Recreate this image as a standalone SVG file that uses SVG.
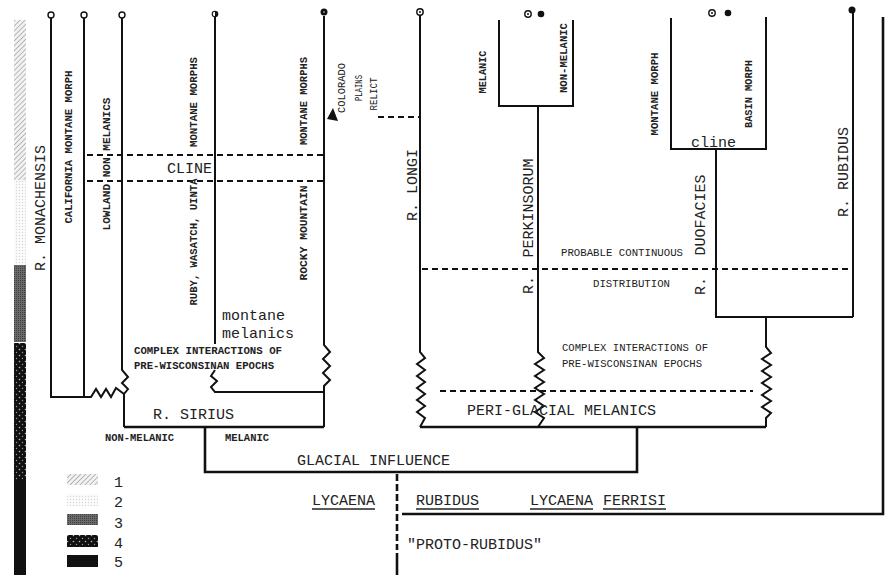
<svg xmlns="http://www.w3.org/2000/svg" width="886" height="575" viewBox="0 0 886 575">
<defs>
<pattern id="p1" width="3.5" height="3.5" patternUnits="userSpaceOnUse" patternTransform="rotate(45)">
<rect width="3.5" height="3.5" fill="#f2f2f2"/>
<line x1="0" y1="0" x2="0" y2="3.5" stroke="#9a9a9a" stroke-width="1.3"/>
</pattern>
<pattern id="p2" width="3" height="3" patternUnits="userSpaceOnUse">
<rect width="3" height="3" fill="#fbfbfb"/>
<circle cx="1.5" cy="1.5" r="0.7" fill="#d6d6d6"/>
</pattern>
<pattern id="p3" width="2" height="2" patternUnits="userSpaceOnUse">
<rect width="2" height="2" fill="#6a6a6a"/>
<rect width="1" height="1" fill="#3e3e3e"/>
</pattern>
<pattern id="p4" width="6" height="6" patternUnits="userSpaceOnUse">
<rect width="6" height="6" fill="#111"/>
<circle cx="1.5" cy="1.5" r="0.8" fill="#bbb"/>
<circle cx="4.5" cy="4.5" r="0.7" fill="#999"/>
</pattern>
</defs>
<style>
.ln{fill:none;stroke:#111;stroke-width:2;stroke-linejoin:miter}
.thk{fill:none;stroke:#111;stroke-width:2.6}
.ds{fill:none;stroke:#111;stroke-width:1.8;stroke-dasharray:6 4}
.big{font-family:"Liberation Mono",monospace;font-size:15px;fill:#222}
.sm{font-family:"Liberation Mono",monospace;font-size:10.7px;font-weight:bold;fill:#222}
.tw{font-family:"Liberation Mono",monospace;font-size:10.7px;fill:#222}
.ul{stroke:#222;stroke-width:1.5}
.oc{fill:#fff;stroke:#111;stroke-width:1.4}
.fc{fill:#111}
</style>

<g id="legend-bar">
<rect x="14" y="20" width="12" height="160" fill="url(#p1)"/>
<rect x="14" y="180" width="12" height="85" fill="url(#p2)"/>
<rect x="14" y="265" width="12" height="77" fill="url(#p3)"/>
<rect x="14" y="343" width="12" height="137" fill="url(#p4)"/>
<rect x="14" y="480" width="12" height="95" fill="#111"/>
</g>

<g id="legend">
<rect x="67" y="474" width="31" height="11" fill="url(#p1)"/>
<rect x="67" y="494" width="31" height="12" fill="url(#p2)"/>
<rect x="67" y="514" width="31" height="11" fill="url(#p3)"/>
<rect x="67" y="535" width="31" height="12" fill="url(#p4)"/>
<rect x="67" y="555" width="31" height="12" fill="#111"/>
<text class="big" x="114" y="487">1</text>
<text class="big" x="114" y="507">2</text>
<text class="big" x="114" y="528">3</text>
<text class="big" x="114" y="548">4</text>
<text class="big" x="114" y="567">5</text>
</g>

<g id="connectors">
<!-- monachensis group -->
<path class="ln" d="M51,18 V397 H84"/>
<path class="ln" d="M84,18 V397 L91,397 L96,389 L101,397 L106,389 L111,397 L116,388 L124,394"/>
<path class="ln" d="M122,18 V370 L128,377 L122,383 L128,389 L124,394 V427"/>
<!-- sirius -->
<path class="ln" d="M215,17 V344"/>
<path class="ln" d="M215,370 L211,376 L217,381 L211,387 L215,392 H324"/>
<path class="ln" d="M324,16 V345 L330,352 L323,359 L330,366 L323,373 L330,380 L324,386 V427"/>
<path class="thk" d="M124,427 H324"/>
<path class="thk" d="M205,427 V472 H637 V427"/>
<!-- longi / perkinsorum -->
<path class="ln" d="M420,15 V352 L425,358 L417,364 L425,370 L417,376 L425,382 L417,388 L425,394 L417,400 L425,406 L417,412 L425,418 L420,427"/>
<path class="ln" d="M499,20 V106 H573 V20"/>
<path class="ln" d="M538,106 V352 L544,358 L535,364 L544,370 L535,376 L544,382 L535,388 L544,394 L535,400 L544,406 L535,412 L544,418 L538,427"/>
<!-- duofacies / rubidus -->
<path class="ln" d="M671,18 V149 H766 V17"/>
<path class="ln" d="M716,149 V317 H853"/>
<path class="ln" d="M853,13 V317"/>
<path class="ln" d="M766,317 V347 L771,353 L762,359 L771,365 L762,371 L771,377 L762,383 L771,389 L762,395 L771,401 L762,407 L771,413 L766,418 V427"/>
<path class="thk" d="M420,427 H766"/>
<!-- root -->
<path class="thk" d="M397,474 V550" stroke-dasharray="7 3"/>
<path class="thk" d="M397,553 V575"/>
<path class="thk" d="M402,514 H883 V17"/>
<!-- dashed distribution lines -->
<path class="ds" d="M87,155 H323"/>
<path class="ds" d="M87,181 H323"/>
<path class="ds" d="M422,269 H853"/>
<path class="ds" d="M440,391 H753"/>
<path class="ds" d="M378,117 H420"/>
<polygon points="327,119 333,108 338,121" fill="#111"/>
</g>

<g id="markers">
<circle class="oc" cx="51" cy="15" r="3"/>
<circle class="oc" cx="84" cy="15" r="3"/>
<circle class="oc" cx="122" cy="15" r="3"/>
<circle cx="215" cy="14" r="3.3" fill="#111"/>
<path d="M215,11.8 A2.2,2.2 0 0 0 215,16.2 Z" fill="#fff"/>
<circle cx="324" cy="12" r="3.5" fill="#111"/>
<circle cx="324" cy="12" r="1" fill="#888"/>
<circle class="oc" cx="420" cy="12" r="3.2"/>
<circle cx="420" cy="12" r="1" fill="#111"/>
<circle class="oc" cx="528" cy="14" r="3.2"/>
<circle cx="528" cy="14" r="1" fill="#111"/>
<circle class="fc" cx="541" cy="14" r="3.3"/>
<circle class="oc" cx="712" cy="13" r="3.2"/>
<circle cx="712" cy="13" r="1" fill="#111"/>
<circle class="fc" cx="728" cy="13" r="3.3"/>
<circle class="fc" cx="852" cy="10" r="3.5"/>
</g>

<g id="monachensis">
<text class="big" text-anchor="middle" transform="translate(45,208) rotate(-90)">R. MONACHENSIS</text>
<text class="sm" text-anchor="middle" textLength="153" lengthAdjust="spacingAndGlyphs" transform="translate(72,147) rotate(-90)">CALIFORNIA MONTANE MORPH</text>
<text class="sm" text-anchor="middle" textLength="133" lengthAdjust="spacingAndGlyphs" transform="translate(110,164) rotate(-90)">LOWLAND NON MELANICS</text>
<text class="big" x="167" y="173">CLINE</text>
</g>

<g id="sirius">
<text class="sm" text-anchor="middle" textLength="90" lengthAdjust="spacingAndGlyphs" transform="translate(197,102) rotate(-90)">MONTANE MORPHS</text>
<text class="sm" text-anchor="middle" textLength="127" lengthAdjust="spacingAndGlyphs" transform="translate(197,242) rotate(-90)">RUBY, WASATCH, UINTA</text>
<text class="sm" text-anchor="middle" textLength="88" lengthAdjust="spacingAndGlyphs" transform="translate(307,101) rotate(-90)">MONTANE MORPHS</text>
<text class="sm" text-anchor="middle" textLength="95" lengthAdjust="spacingAndGlyphs" transform="translate(307,233) rotate(-90)">ROCKY MOUNTAIN</text>
<text class="big" x="222" y="320">montane</text>
<text class="big" x="222" y="338">melanics</text>
<text class="sm" x="134" y="354" textLength="148" lengthAdjust="spacingAndGlyphs">COMPLEX INTERACTIONS OF</text>
<text class="sm" x="134" y="369" textLength="140" lengthAdjust="spacingAndGlyphs">PRE-WISCONSINAN EPOCHS</text>
<text class="big" x="153" y="419">R. SIRIUS</text>
<text class="sm" x="105" y="441" textLength="69" lengthAdjust="spacingAndGlyphs">NON-MELANIC</text>
<text class="sm" x="225" y="441" textLength="44" lengthAdjust="spacingAndGlyphs">MELANIC</text>
</g>

<g id="colorado-relict">
<text class="tw" text-anchor="middle" textLength="50" lengthAdjust="spacingAndGlyphs" transform="translate(345,88) rotate(-90)">COLORADO</text>
<text class="tw" text-anchor="middle" textLength="26" lengthAdjust="spacingAndGlyphs" transform="translate(362,88) rotate(-90)">PLAINS</text>
<text class="tw" text-anchor="middle" textLength="33" lengthAdjust="spacingAndGlyphs" transform="translate(377,94) rotate(-90)">RELICT</text>
</g>

<g id="longi">
<text class="big" text-anchor="middle" transform="translate(417,185) rotate(-90)">R. LONGI</text>
</g>

<g id="perkinsorum">
<text class="big" text-anchor="middle" transform="translate(533,208) rotate(-90)">PERKINSORUM</text>
<text class="big" text-anchor="middle" transform="translate(533,285) rotate(-90)">R.</text>
<text class="sm" text-anchor="middle" textLength="43" lengthAdjust="spacingAndGlyphs" transform="translate(486,72) rotate(-90)">MELANIC</text>
<text class="sm" text-anchor="middle" textLength="70" lengthAdjust="spacingAndGlyphs" transform="translate(567,58) rotate(-90)">NON-MELANIC</text>
</g>

<g id="duofacies">
<text class="big" text-anchor="middle" transform="translate(705,215) rotate(-90)">DUOFACIES</text>
<text class="big" text-anchor="middle" transform="translate(705,286) rotate(-90)">R.</text>
<text class="sm" text-anchor="middle" textLength="83" lengthAdjust="spacingAndGlyphs" transform="translate(658,94) rotate(-90)">MONTANE MORPH</text>
<text class="sm" text-anchor="middle" textLength="68" lengthAdjust="spacingAndGlyphs" transform="translate(752,94) rotate(-90)">BASIN MORPH</text>
<text class="big" x="691" y="147">cline</text>
</g>

<g id="rubidus">
<text class="big" text-anchor="middle" transform="translate(848,172) rotate(-90)">R. RUBIDUS</text>
</g>

<g id="distribution">
<text class="tw" x="561" y="256" textLength="122" lengthAdjust="spacingAndGlyphs">PROBABLE CONTINUOUS</text>
<text class="tw" x="593" y="287" textLength="77" lengthAdjust="spacingAndGlyphs">DISTRIBUTION</text>
<text class="tw" x="562" y="351" textLength="146" lengthAdjust="spacingAndGlyphs">COMPLEX INTERACTIONS OF</text>
<text class="tw" x="562" y="367" textLength="140" lengthAdjust="spacingAndGlyphs">PRE-WISCONSINAN EPOCHS</text>
<text class="big" x="467" y="415">PERI-GLACIAL MELANICS</text>
</g>

<g id="glacial">
<text class="big" x="297" y="465">GLACIAL INFLUENCE</text>
</g>

<g id="root">
<text class="big" x="312" y="505">LYCAENA</text>
<line class="ul" x1="312" y1="509" x2="375" y2="509"/>
<text class="big" x="416" y="505">RUBIDUS</text>
<line class="ul" x1="416" y1="509" x2="479" y2="509"/>
<text class="big" x="530" y="505">LYCAENA</text>
<line class="ul" x1="530" y1="509" x2="593" y2="509"/>
<text class="big" x="603" y="505">FERRISI</text>
<line class="ul" x1="603" y1="509" x2="666" y2="509"/>
<text class="big" x="407" y="549">"PROTO-RUBIDUS"</text>
</g>
</svg>
